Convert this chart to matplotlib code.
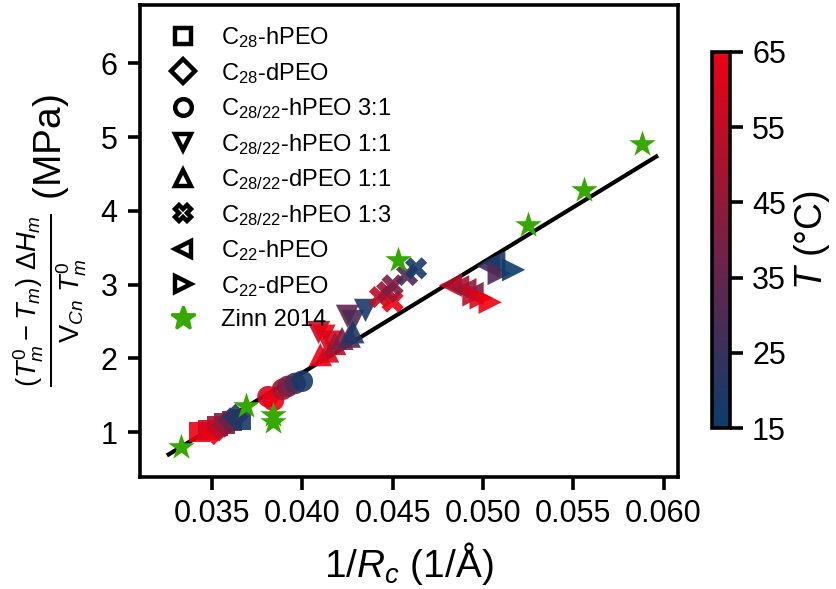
import numpy as np
import matplotlib
matplotlib.use("Agg")
import matplotlib.pyplot as plt
from matplotlib.colors import LinearSegmentedColormap, Normalize
from matplotlib.lines import Line2D

plt.rcParams['font.family'] = ['Liberation Sans', 'DejaVu Sans']
plt.rcParams['mathtext.fontset'] = 'custom'
plt.rcParams['mathtext.rm'] = 'Liberation Sans'
plt.rcParams['mathtext.it'] = 'Liberation Sans:italic'
plt.rcParams['mathtext.bf'] = 'Liberation Sans:bold'

# ---------------- data ----------------
c28h_x = [0.0343, 0.0348, 0.0353, 0.0357, 0.0361, 0.0366]
c28h_y = [1.00, 1.03, 1.08, 1.12, 1.15, 1.17]
c28h_T = [65, 60, 50, 40, 30, 18]

c28d_x = [0.0351, 0.0354, 0.0357, 0.0360, 0.0363]
c28d_y = [1.00, 1.05, 1.10, 1.16, 1.21]
c28d_T = [65, 55, 45, 35, 20]

mix31_x = [0.0381, 0.0384, 0.0389, 0.0392, 0.0396, 0.0400]
mix31_y = [1.48, 1.43, 1.58, 1.62, 1.66, 1.69]
mix31_T = [60, 65, 50, 40, 30, 18]

mix11h_x = [0.0409, 0.0412, 0.0416, 0.0425, 0.0428, 0.0435]
mix11h_y = [2.35, 2.30, 2.22, 2.57, 2.50, 2.65]
mix11h_T = [55, 65, 60, 35, 30, 18]

mix11d_x = [0.0410, 0.0414, 0.0418, 0.0422, 0.0426, 0.0428]
mix11d_y = [2.05, 2.10, 2.20, 2.27, 2.30, 2.36]
mix11d_T = [65, 60, 50, 40, 30, 20]

mix13_x = [0.0443, 0.0450, 0.0447, 0.0450, 0.0458, 0.0463]
mix13_y = [2.83, 2.77, 2.90, 2.99, 3.13, 3.22]
mix13_T = [55, 65, 48, 40, 30, 18]

c22h_x = [0.0482, 0.0486, 0.0490, 0.0494, 0.0503, 0.0506]
c22h_y = [2.99, 2.97, 2.93, 2.88, 3.25, 3.30]
c22h_T = [55, 50, 45, 40, 28, 18]

c22d_x = [0.0495, 0.0499, 0.0504, 0.0509, 0.0517]
c22d_y = [2.86, 2.82, 2.76, 3.15, 3.20]
c22d_T = [55, 60, 65, 30, 15]

zinn_x = [0.0333, 0.0369, 0.0384, 0.0384, 0.0453, 0.0525, 0.0556, 0.0588]
zinn_y = [0.80, 1.35, 1.23, 1.14, 3.33, 3.81, 4.28, 4.90]

fit_slope = 149.6
fit_intercept = -4.18
fit_xrange = [0.0326, 0.0596]

labels = [r'C$_{28}$-hPEO', r'C$_{28}$-dPEO', r'C$_{28/22}$-hPEO 3:1',
          r'C$_{28/22}$-hPEO 1:1', r'C$_{28/22}$-dPEO 1:1', r'C$_{28/22}$-hPEO 1:3',
          r'C$_{22}$-hPEO', r'C$_{22}$-dPEO', 'Zinn 2014']
markers = ['s', 'D', 'o', 'v', '^', 'X', '<', '>']
sizes = [55, 44, 60, 70, 70, 64, 70, 70]

series = [(c28h_x, c28h_y, c28h_T), (c28d_x, c28d_y, c28d_T),
          (mix31_x, mix31_y, mix31_T), (mix11h_x, mix11h_y, mix11h_T),
          (mix11d_x, mix11d_y, mix11d_T), (mix13_x, mix13_y, mix13_T),
          (c22h_x, c22h_y, c22h_T), (c22d_x, c22d_y, c22d_T)]

cmap = LinearSegmentedColormap.from_list('bluered', ['#0b3d6b', '#7a1f45', '#ee0012'])
norm = Normalize(vmin=15, vmax=65)
green = '#36a900'

fig = plt.figure(figsize=(8.37 / 2, 5.89 / 2), dpi=200)
ax = fig.add_axes([0.167, 0.19, 0.643, 0.8015])

xs = np.array(fit_xrange)
ax.plot(xs, fit_slope * xs + fit_intercept, color='k', lw=1.5, zorder=1)

for (x, y, T), m, s in zip(series, markers, sizes):
    ax.scatter(x, y, c=T, cmap=cmap, norm=norm, marker=m, s=s,
               linewidths=0, alpha=0.9, zorder=2)
ax.scatter(zinn_x, zinn_y, color=green, marker='*', s=100, linewidths=0, zorder=3)

ax.set_xlim(0.0310, 0.0608)
ax.set_ylim(0.39, 6.79)
ax.set_xticks([0.035, 0.040, 0.045, 0.050, 0.055, 0.060])
ax.set_xticklabels(['0.035', '0.040', '0.045', '0.050', '0.055', '0.060'])
ax.set_yticks([1, 2, 3, 4, 5, 6])
ax.tick_params(labelsize=11, width=1.3, length=4.5, direction='out')
for sp in ax.spines.values():
    sp.set_linewidth(1.3)

ax.set_xlabel(r'1/$R_c$ (1/Å)', fontsize=14)
ax.set_ylabel(r'$\frac{(T_m^0-T_m)\ \Delta H_m}{\mathrm{V}_{Cn}\ T_m^0}$ (MPa)', fontsize=14)

handles = []
for m in markers:
    handles.append(Line2D([], [], linestyle='none', marker=m, markersize=6,
                          markerfacecolor='none', markeredgecolor='k',
                          markeredgewidth=1.6))
handles.append(Line2D([], [], linestyle='none', marker='*', markersize=9,
                      markerfacecolor=green, markeredgecolor=green))
ax.legend(handles, labels, loc='upper left', bbox_to_anchor=(0.0, 1.0),
          frameon=False, fontsize=8.5, labelspacing=0.45, handletextpad=0.6,
          borderaxespad=0.45)

cax = fig.add_axes([0.851, 0.273, 0.021, 0.639])
cb = fig.colorbar(plt.cm.ScalarMappable(norm=norm, cmap=cmap), cax=cax)
cb.set_ticks([15, 25, 35, 45, 55, 65])
cb.ax.tick_params(labelsize=11, width=1.3, length=4.5)
cb.outline.set_linewidth(1.3)
cb.set_label(r'$T$ (°C)', fontsize=13.5, labelpad=2)

fig.savefig('out.png', dpi=200)
